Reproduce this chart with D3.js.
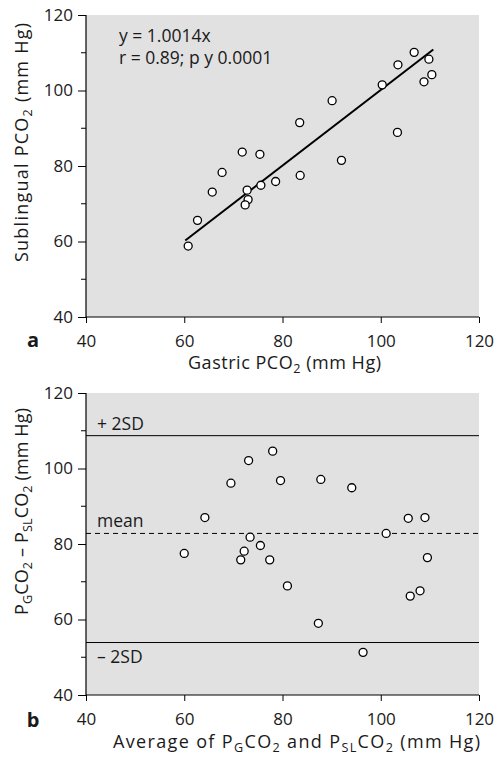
<!DOCTYPE html>
<html>
<head>
<meta charset="utf-8">
<script src="https://cdn.jsdelivr.net/npm/d3@7"></script>
<style>
  html, body { margin: 0; padding: 0; background: #fff; }
  svg { display: block; }
  text { font-family: "Open Sans", "Noto Sans", sans-serif; fill: #1a1a1a; }
</style>
</head>
<body>
<svg id="chart" width="501" height="760"></svg>
<script>
// Panel a: gastric vs sublingual PCO2 (mm Hg)
const gastric    = [60.8, 62.7, 65.7, 67.7, 71.8, 72.8, 73.0, 72.4, 75.4, 75.6, 78.6,
                    83.5, 83.6, 90.1, 92.0, 100.3, 103.4, 103.5, 106.8, 109.8, 108.8, 110.4];
const sublingual = [58.8, 65.6, 73.1, 78.3, 83.7, 73.6, 71.1, 69.7, 83.1, 74.9, 75.9,
                    91.5, 77.5, 97.3, 81.5, 101.5, 88.9, 106.8, 110.1, 108.3, 102.3, 104.2];
const slope = 1.0014;
const fitRange = [60.2, 110.7];

// Panel b: average vs difference
const average    = [60.0, 64.2, 69.5, 73.1, 78.0, 79.6, 87.8, 94.1, 73.4, 75.5, 72.2,
                    71.5, 77.4, 81.0, 87.3, 96.4, 101.1, 105.6, 109.0, 109.5, 106.0, 108.0];
const difference = [77.5, 87.0, 96.1, 102.1, 104.6, 96.8, 97.1, 94.9, 81.8, 79.6, 78.1,
                    75.8, 75.8, 68.9, 59.0, 51.3, 82.8, 86.8, 87.0, 76.4, 66.2, 67.6];
const meanDiff = 82.8;
const upperSD = 108.7;
const lowerSD = 53.9;

const domain = [40, 120];
const majorTicks = [40, 60, 80, 100, 120];
const minorTicks = [50, 70, 90, 110];

const svg = d3.select("#chart");
const left = 86, right = 479;
const x = d3.scaleLinear().domain(domain).range([left, right]);

function panel(top, bottom) {
  const y = d3.scaleLinear().domain(domain).range([bottom, top]);
  const g = svg.append("g");
  g.append("rect")
    .attr("x", left).attr("y", top)
    .attr("width", right - left).attr("height", bottom - top)
    .attr("fill", "#e1e1e1");

  // y axis with major labels and short minor ticks
  const yAxis = g.append("g").attr("transform", `translate(${left},0)`)
    .call(d3.axisLeft(y).tickValues(majorTicks).tickSize(8).tickPadding(5));
  yAxis.selectAll(".minor").data(minorTicks).enter().append("line")
    .attr("class", "minor")
    .attr("x1", -5).attr("x2", 0)
    .attr("y1", d => y(d)).attr("y2", d => y(d))
    .attr("stroke", "#000");

  const xAxis = g.append("g").attr("transform", `translate(0,${bottom})`)
    .call(d3.axisBottom(x).tickValues(majorTicks).tickSize(6).tickPadding(12));

  [yAxis, xAxis].forEach(ax => {
    ax.select(".domain").attr("stroke", "#000").attr("stroke-width", 1.2);
    ax.selectAll(".tick line").attr("stroke", "#000");
    ax.selectAll("text").attr("font-size", 17).attr("fill", "#1a1a1a")
      .attr("font-family", "\"Open Sans\", sans-serif");
  });
  // axis line ends exactly at the corner
  yAxis.select(".domain").attr("d", `M0,${top}V${bottom}`);
  xAxis.select(".domain").attr("d", `M${left},0H${right}`);
  return { g, y };
}

// Builds a text element from [string, subscript?] pieces
function richText(parent, parts, size, length) {
  const t = parent.append("text").attr("font-size", size);
  let shifted = false;
  parts.forEach(([s, sub]) => {
    const span = t.append("tspan").text(s);
    if (sub) {
      span.attr("font-size", size * 0.7).attr("dy", shifted ? 0 : 4);
      shifted = true;
    } else {
      span.attr("dy", shifted ? -4 : 0);
      shifted = false;
    }
  });
  if (length) t.attr("textLength", length).attr("lengthAdjust", "spacing");
  return t;
}

const titleSize = 18;

// ---- Panel a ----
const a = panel(15, 317);
a.g.append("line")
  .attr("x1", x(fitRange[0])).attr("y1", a.y(slope * fitRange[0]))
  .attr("x2", x(fitRange[1])).attr("y2", a.y(slope * fitRange[1]))
  .attr("stroke", "#000").attr("stroke-width", 2);
a.g.selectAll("circle").data(gastric).enter().append("circle")
  .attr("cx", d => x(d)).attr("cy", (d, i) => a.y(sublingual[i]))
  .attr("r", 4).attr("fill", "#fff").attr("stroke", "#000").attr("stroke-width", 1.3);
a.g.append("text").attr("x", 119).attr("y", 42).attr("font-size", 17.5)
  .text(`y = ${slope}x`);
a.g.append("text").attr("x", 119).attr("y", 64).attr("font-size", 17.5)
  .text("r = 0.89; p y 0.0001");
richText(svg, [["Gastric PCO"], ["2", true], [" (mm Hg)"]], titleSize, 193)
  .attr("x", 188).attr("y", 369);
richText(svg, [["Sublingual PCO"], ["2", true], [" (mm Hg)"]], titleSize, 239)
  .attr("transform", `translate(28,262) rotate(-90)`);
svg.append("text").attr("x", 33).attr("y", 347).attr("text-anchor", "middle")
  .attr("font-size", 20).attr("font-weight", "bold").text("a");

// ---- Panel b ----
const b = panel(393, 695);
const refLines = [
  { v: upperSD, dash: null, label: "+ 2SD", ly: -6 },
  { v: meanDiff, dash: "5,4", label: "mean", ly: -6 },
  { v: lowerSD, dash: null, label: "\u2013 2SD", ly: 20 }
];
refLines.forEach(r => {
  b.g.append("line")
    .attr("x1", left).attr("x2", right)
    .attr("y1", b.y(r.v)).attr("y2", b.y(r.v))
    .attr("stroke", "#000").attr("stroke-width", 1)
    .attr("stroke-dasharray", r.dash);
  b.g.append("text").attr("x", 97).attr("y", b.y(r.v) + r.ly)
    .attr("font-size", 17.5).text(r.label);
});
b.g.selectAll("circle").data(average).enter().append("circle")
  .attr("cx", d => x(d)).attr("cy", (d, i) => b.y(difference[i]))
  .attr("r", 4).attr("fill", "#fff").attr("stroke", "#000").attr("stroke-width", 1.3);
richText(svg, [["Average of P"], ["G", true], ["CO"], ["2", true], [" and P"], ["SL", true],
               ["CO"], ["2", true], [" (mm Hg)"]], titleSize, 367)
  .attr("x", 113).attr("y", 748);
richText(svg, [["P"], ["G", true], ["CO"], ["2", true], [" \u2013 P"], ["SL", true],
               ["CO"], ["2", true], [" (mm Hg)"]], titleSize, 207)
  .attr("transform", `translate(28,615) rotate(-90)`);
svg.append("text").attr("x", 33).attr("y", 727).attr("text-anchor", "middle")
  .attr("font-size", 20).attr("font-weight", "bold").text("b");
</script>
</body>
</html>
